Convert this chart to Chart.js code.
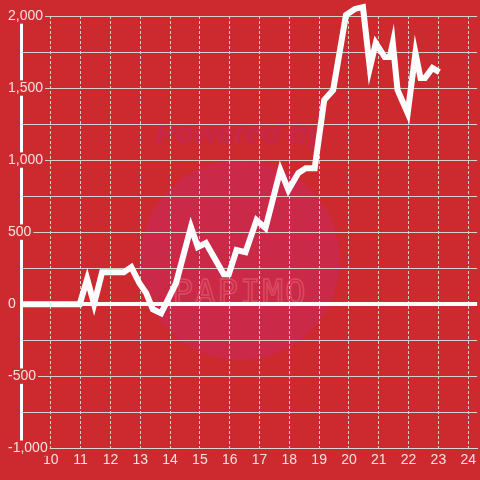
<!DOCTYPE html>
<html>
<head>
<meta charset="utf-8">
<script src="https://cdn.jsdelivr.net/npm/chart.js@4/dist/chart.umd.min.js"></script>
<style>
  html, body { margin: 0; padding: 0; background: #cc2a2f; }
  #wrap { position: relative; width: 480px; height: 480px; overflow: hidden; }
  #mark { position: absolute; left: 140px; top: 160px; width: 200px; height: 200px; border-radius: 50%; background: #cb2948; }
  #powered { position: absolute; left: 0; width: 480px; top: 116px; text-align: center; font: italic bold 30px "Liberation Sans", Arial, sans-serif; color: #c7274a; }
  #logo { position: absolute; left: 0; width: 480px; top: 272px; text-align: center; font: 34px "DejaVu Sans Mono", monospace; letter-spacing: 2px; color: transparent; -webkit-text-stroke: 1.5px rgba(235,120,130,0.45); }
  canvas { position: absolute; left: 0; top: 0; }
</style>
</head>
<body>
<div id="wrap">
  <div id="mark"></div>
  <div id="powered">Powered by</div>
  <div id="logo">PAPIMO</div>
  <canvas id="myChart" width="480" height="480"></canvas>
</div>
<script>
// time of day (hours) and running total
const hours = [9, 10.97, 11.22, 11.45, 11.72, 12.45, 12.7, 12.97, 13.2, 13.42, 13.7,
  14.2, 14.7, 14.93, 15.2, 15.8, 15.97, 16.23, 16.53, 16.9, 17.2, 17.7, 17.97,
  18.3, 18.55, 18.85, 19.17, 19.47, 19.9, 20.2, 20.47, 20.7, 20.9, 21.2, 21.37,
  21.47, 21.63, 21.97, 22.23, 22.4, 22.55, 22.8, 23.03];
const totals = [0, 0, 175, 0, 222, 222, 257, 146, 76, -35, -63,
  146, 535, 396, 424, 208, 208, 375, 361, 583, 528, 931, 792,
  910, 944, 944, 1417, 1486, 2007, 2049, 2062, 1639, 1812, 1715, 1715,
  1812, 1486, 1326, 1743, 1569, 1569, 1639, 1611];

const xTickLabels = [10, 11, 12, 13, 14, 15, 16, 17, 18, 19, 20, 21, 22, 23, 24];
const yLabelStep = 500;

const labelColor = "rgba(255,255,255,0.85)";
const gridColor = "rgba(215,215,215,0.95)";

const points = hours.map((h, i) => ({ x: h, y: totals[i] }));

const ctx = document.getElementById("myChart").getContext("2d");

new Chart(ctx, {
  type: "line",
  data: {
    datasets: [
      {
        data: points,
        borderColor: "#ffffff",
        borderWidth: 6,
        pointRadius: 0,
        tension: 0,
        clip: false,
      },
    ],
  },
  options: {
    responsive: false,
    animation: false,
    layout: { padding: { left: 21, top: 16, right: 0, bottom: 7 } },
    plugins: { legend: { display: false }, tooltip: { enabled: false } },
    scales: {
      x: {
        type: "linear",
        min: 9,
        max: 24.3,
        grid: {
          color: (c) => (c.tick && c.tick.value >= 10 ? gridColor : "rgba(0,0,0,0)"),
          drawTicks: false,
        },
        border: { color: gridColor, width: 1, dash: [3, 2] },
        ticks: {
          stepSize: 1,
          includeBounds: false,
          padding: 4,
          color: labelColor,
          font: { family: "'Liberation Sans', Arial, sans-serif", size: 14 },
          maxRotation: 0,
          autoSkip: false,
          callback: (v) => (xTickLabels.includes(v) ? String(v) : ""),
        },
      },
      y: {
        min: -1000,
        max: 2000,
        afterFit: (scale) => {
          // labels sit over the plot, so the axis takes no room
          scale.width = 0;
        },
        grid: {
          color: (c) => (c.tick && c.tick.value === 0 ? "#ffffff" : gridColor),
          lineWidth: (c) => (c.tick && c.tick.value === 0 ? 4 : 1),
          drawTicks: false,
        },
        border: { color: "#ffffff", width: 3 },
        ticks: {
          stepSize: 250,
          includeBounds: false,
          mirror: true,
          crossAlign: "near",
          padding: -13,
          color: labelColor,
          font: { family: "'Liberation Sans', Arial, sans-serif", size: 14, lineHeight: 1.1 },
          showLabelBackdrop: (c) => c.tick && c.tick.value % yLabelStep === 0,
          backdropColor: "#cc2a2f",
          backdropPadding: { left: 2, right: 2, top: 0, bottom: 0 },
          callback: (v) => (v % yLabelStep === 0 ? v.toLocaleString("en-US") : ""),
        },
      },
    },
  },
});
</script>
</body>
</html>
